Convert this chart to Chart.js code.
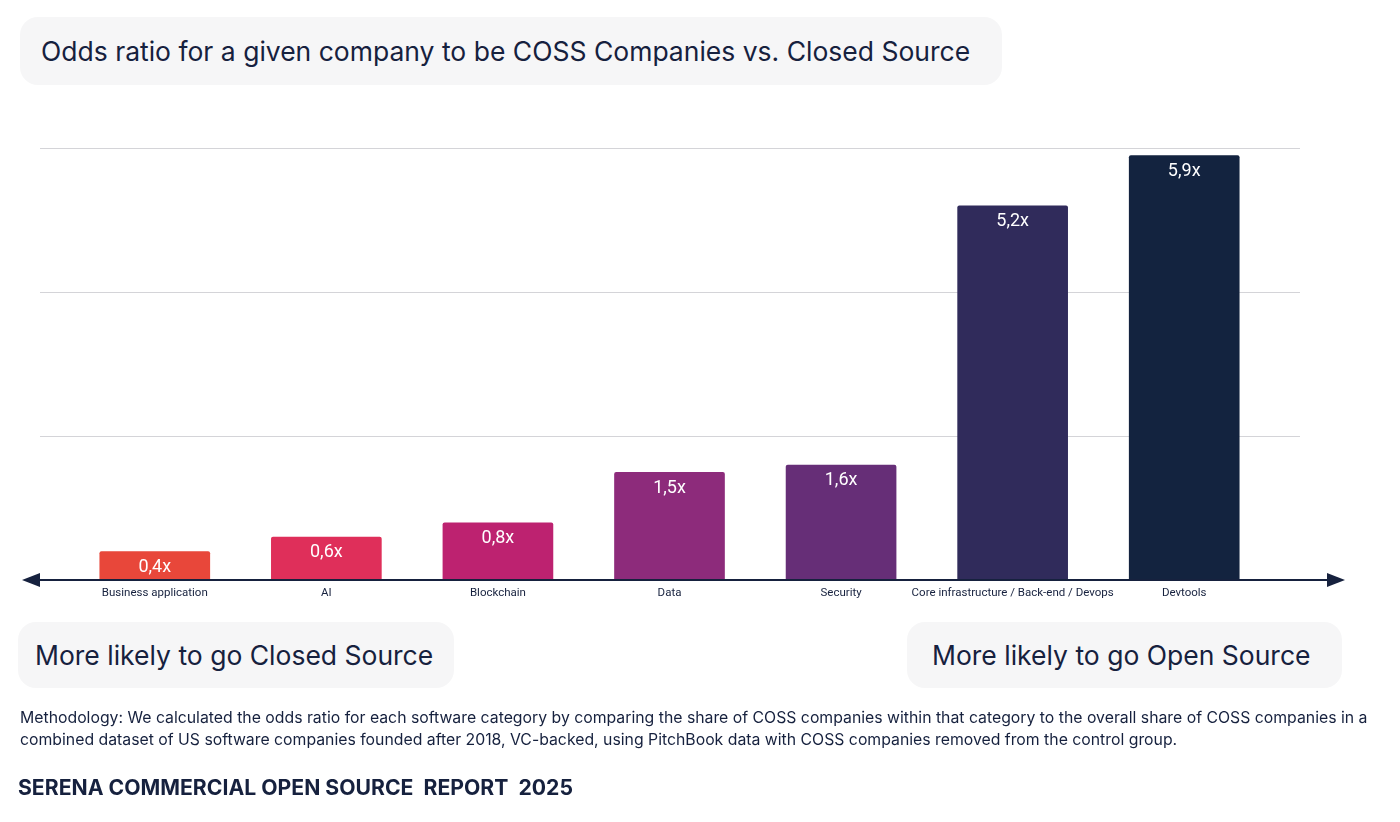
<!DOCTYPE html>
<html><head><meta charset="utf-8">
<script src="https://cdn.jsdelivr.net/npm/chart.js@4/dist/chart.umd.min.js"></script>
<style>
body{margin:0;width:1400px;height:822px;background:#fff;font-family:Inter,"Noto Sans",sans-serif;color:#16213e;position:relative;overflow:hidden}
canvas{position:absolute;left:0;top:0}
.box{position:absolute;background:#f6f6f7;border-radius:18px;display:flex;align-items:center;box-sizing:border-box;white-space:nowrap}
#t{left:20px;top:17px;width:982px;height:68px;font-size:26.5px;padding-left:21px}
#l{left:18px;top:622px;width:436px;height:66px;font-size:26.5px;padding-left:17px}
#r{left:907px;top:622px;width:435px;height:66px;font-size:26.5px;padding-left:25px}
#m{position:absolute;left:20px;top:707px;width:1372px;font-size:15.8px;line-height:22px}
#f{position:absolute;left:18px;top:774px;font-size:21.2px;font-weight:700;white-space:pre}
</style></head><body>
<canvas id="c" width="1400" height="822"></canvas>
<div class="box" id="t">Odds ratio for a given company to be COSS Companies vs. Closed Source</div>
<div class="box" id="l">More likely to go Closed Source</div>
<div class="box" id="r">More likely to go Open Source</div>
<div id="m">Methodology: We calculated the odds ratio for each software category by comparing the share of COSS companies within that category to the overall share of COSS companies in a combined dataset of US software companies founded after 2018, VC-backed, using PitchBook data with COSS companies removed from the control group.</div>
<div id="f">SERENA COMMERCIAL OPEN SOURCE  REPORT  2025</div>
<script>
const categories=["Business application","AI","Blockchain","Data","Security","Core infrastructure / Back-end / Devops","Devtools"];
const values=[0.4,0.6,0.8,1.5,1.6,5.2,5.9];
const valueLabels=["0,4x","0,6x","0,8x","1,5x","1,6x","5,2x","5,9x"];
const colors=["#e8473a","#df2f5a","#bd2270","#8d2b7b","#662e77","#302b5b","#13233f"];
const gridTicks=[2,4,6];
const deco={id:'deco',
beforeDatasetsDraw(ch){const c=ch.ctx,y=ch.scales.y;c.save();c.strokeStyle='#d4d4d8';c.lineWidth=1;
gridTicks.forEach(v=>{const p=Math.round(y.getPixelForValue(v))+0.5;c.beginPath();c.moveTo(40,p);c.lineTo(1300,p);c.stroke();});c.restore();},
afterDatasetsDraw(ch){const c=ch.ctx,x=ch.scales.x,y=ch.scales.y;const b=y.getPixelForValue(0);c.save();
c.strokeStyle='#16213e';c.fillStyle='#16213e';c.lineWidth=2;c.beginPath();c.moveTo(30,b);c.lineTo(1335,b);c.stroke();
c.beginPath();c.moveTo(22,b);c.lineTo(40,b-7);c.lineTo(40,b+7);c.fill();
c.beginPath();c.moveTo(1345,b);c.lineTo(1327,b-7);c.lineTo(1327,b+7);c.fill();
c.font='11.5px Roboto, sans-serif';c.textAlign='center';c.textBaseline='middle';
categories.forEach((t,i)=>c.fillText(t,x.getPixelForValue(i),b+13));
c.fillStyle='#fff';c.font='18px Roboto, sans-serif';c.textBaseline='top';
ch.getDatasetMeta(0).data.forEach((e,i)=>c.fillText(valueLabels[i],e.x,e.y+7));
c.restore();}};
new Chart(document.getElementById('c'),{type:'bar',
data:{labels:categories,datasets:[{data:values,backgroundColor:colors,borderRadius:2,borderSkipped:'bottom',barPercentage:0.645,categoryPercentage:1}]},
options:{responsive:false,animation:false,devicePixelRatio:1,
layout:{padding:{left:69,right:130,top:148,bottom:242}},
plugins:{legend:{display:false},tooltip:{enabled:false}},
scales:{x:{display:false},y:{display:false,min:0,max:6}}},
plugins:[deco]});
</script></body></html>
